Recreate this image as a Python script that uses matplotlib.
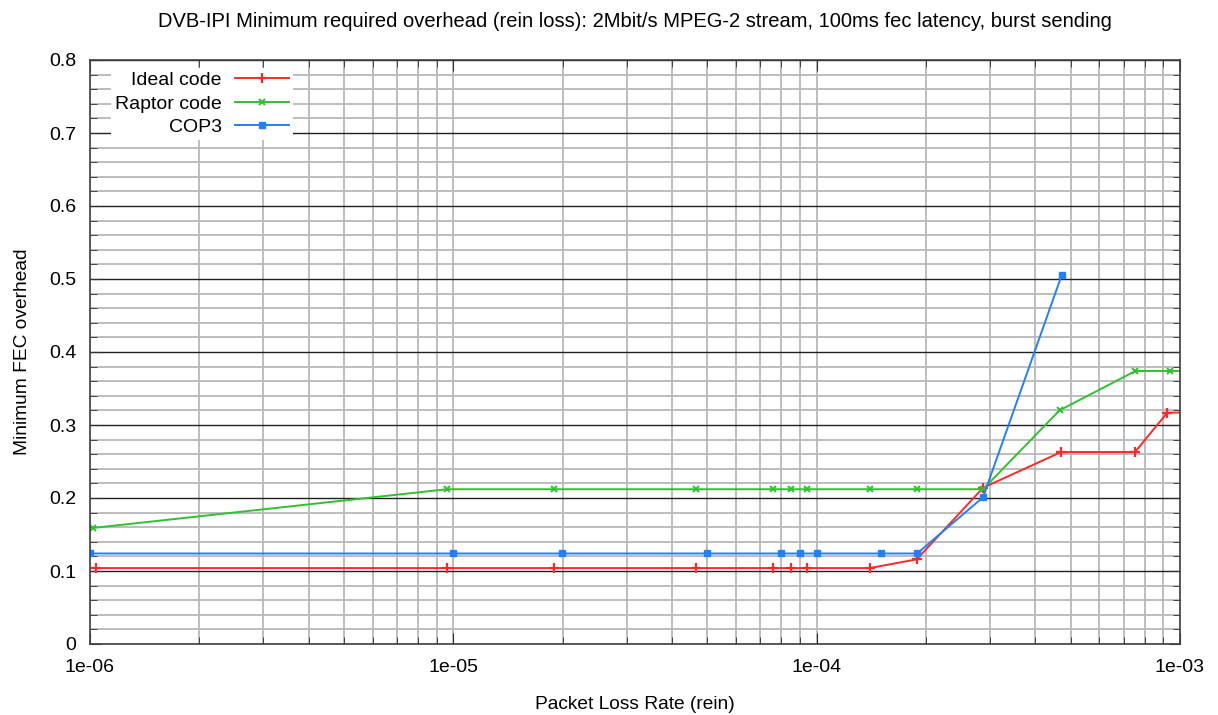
import matplotlib
matplotlib.use("Agg")
import matplotlib.pyplot as plt
from matplotlib.ticker import LogLocator, MultipleLocator, FixedFormatter, FixedLocator, NullFormatter

plt.rcParams['font.family'] = ['Liberation Sans', 'DejaVu Sans']

ideal_x = [1.04e-6, 9.6e-6, 1.89e-5, 4.66e-5, 7.57e-5, 8.48e-5, 9.39e-5, 1.40e-4, 1.886e-4, 2.87e-4, 4.71e-4, 7.52e-4, 9.23e-4, 1.1e-3]
ideal_y = [0.104, 0.104, 0.104, 0.104, 0.104, 0.104, 0.104, 0.104, 0.116, 0.214, 0.263, 0.263, 0.317, 0.317]

raptor_x = [1.02e-6, 9.6e-6, 1.89e-5, 4.66e-5, 7.57e-5, 8.48e-5, 9.39e-5, 1.40e-4, 1.886e-4, 2.87e-4, 4.66e-4, 7.54e-4, 9.39e-4, 1.1e-3]
raptor_y = [0.159, 0.212, 0.212, 0.212, 0.212, 0.212, 0.212, 0.212, 0.212, 0.212, 0.320, 0.374, 0.374, 0.374]

cop3_x = [1.0e-6, 1.0e-5, 1.99e-5, 5.0e-5, 8.0e-5, 9.0e-5, 1.0e-4, 1.5e-4, 1.89e-4, 2.87e-4, 4.73e-4]
cop3_y = [0.124, 0.124, 0.124, 0.124, 0.124, 0.124, 0.124, 0.124, 0.124, 0.201, 0.506]

x_ticks = [1e-6, 1e-5, 1e-4, 1e-3]
x_tick_labels = ['1e-06', '1e-05', '1e-04', '1e-03']

fig = plt.figure(figsize=(12.18, 7.15), dpi=100)
ax = fig.add_axes([90/1218, 71/715, 1090/1218, 584/715])

ax.set_xscale('log')
ax.set_xlim(1e-6, 1e-3)
ax.set_ylim(0, 0.8)

ax.xaxis.set_major_locator(FixedLocator(x_ticks))
ax.xaxis.set_major_formatter(FixedFormatter(x_tick_labels))
ax.xaxis.set_minor_locator(LogLocator(base=10, subs=range(2, 10)))
ax.xaxis.set_minor_formatter(NullFormatter())
ax.yaxis.set_major_locator(MultipleLocator(0.1))
ax.yaxis.set_minor_locator(MultipleLocator(0.02))
ax.yaxis.set_major_formatter(matplotlib.ticker.FuncFormatter(lambda v, p: '0' if abs(v) < 1e-9 else f'{v:.1f}'))

ax.grid(True, axis='x', which='both', color='#b8b8b8', linewidth=1.3)
ax.grid(True, axis='y', which='minor', color='#b8b8b8', linewidth=1.3)
ax.grid(True, axis='y', which='major', color='#202020', linewidth=1.0)
ax.set_axisbelow(True)

ax.tick_params(which='both', direction='in', top=True, right=True, labelsize=14, color='#303030')
ax.tick_params(which='major', length=8)
ax.tick_params(axis='x', which='major', pad=11)
ax.tick_params(axis='y', which='major', pad=10)
ax.tick_params(which='minor', length=5)
for s in ax.spines.values():
    s.set_color('#404040')
    s.set_linewidth(1.2)

ax.plot(ideal_x, ideal_y, color='#ff2828', marker='+', markersize=7, markeredgewidth=1.6,
        linewidth=1.4, label='Ideal code', clip_on=True)
ax.plot(raptor_x, raptor_y, color='#30c030', marker='x', markersize=5, markeredgewidth=1.4,
        linewidth=1.4, label='Raptor code', clip_on=True)
ax.plot(cop3_x, cop3_y, color='#2080ff', marker='s', markersize=4.5,
        linewidth=1.4, label='COP3', clip_on=True)

leg = ax.legend(loc='upper left', bbox_to_anchor=(0.014, 0.997), markerfirst=False, frameon=True,
                fancybox=False, edgecolor='none', framealpha=1.0, fontsize=14,
                handlelength=2.75, labelspacing=0.3, borderpad=0.2, handletextpad=0.7,
                borderaxespad=0.3)
for t in leg.get_texts():
    t.set_ha('right')
leg._legend_box.align = 'right'

ax.set_title('DVB-IPI Minimum required overhead (rein loss): 2Mbit/s MPEG-2 stream, 100ms fec latency, burst sending',
             fontsize=14.5, pad=24)
ax.set_xlabel('Packet Loss Rate (rein)', fontsize=13.8, labelpad=14)
ax.set_ylabel('Minimum FEC overhead', fontsize=13.8, labelpad=13)

fig.savefig('out.png', dpi=100)
